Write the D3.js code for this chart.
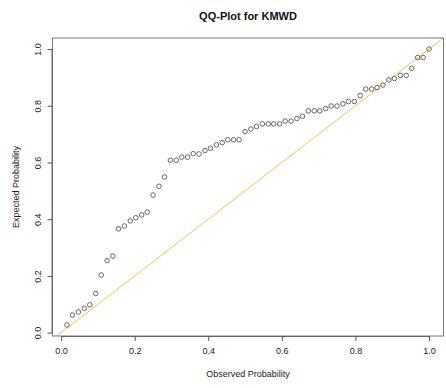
<!DOCTYPE html>
<html>
<head>
<meta charset="utf-8">
<script src="https://cdn.jsdelivr.net/npm/d3@7"></script>
<style>
  html, body { margin: 0; padding: 0; background: #fff; }
  svg { display: block; font-family: "Liberation Sans", Arial, sans-serif; }
</style>
</head>
<body>
<svg id="chart" width="446" height="388"></svg>
<script>
const observed = [0.016,0.031,0.047,0.063,0.078,0.094,0.109,0.125,0.141,0.156,
  0.172,0.188,0.203,0.219,0.234,0.250,0.266,0.281,0.297,0.313,
  0.328,0.344,0.359,0.375,0.391,0.406,0.422,0.438,0.453,0.469,
  0.484,0.500,0.516,0.531,0.547,0.563,0.578,0.594,0.609,0.625,
  0.641,0.656,0.672,0.688,0.703,0.719,0.734,0.750,0.766,0.781,
  0.797,0.813,0.828,0.844,0.859,0.875,0.891,0.906,0.922,0.938,
  0.953,0.969,0.984,1.000];
const expected = [0.027,0.062,0.073,0.086,0.098,0.138,0.203,0.254,0.270,0.366,
  0.376,0.394,0.405,0.415,0.425,0.485,0.516,0.549,0.608,0.608,
  0.619,0.619,0.631,0.630,0.642,0.650,0.662,0.670,0.680,0.680,
  0.680,0.709,0.718,0.727,0.736,0.736,0.736,0.736,0.746,0.746,
  0.755,0.763,0.782,0.782,0.782,0.790,0.799,0.799,0.807,0.815,
  0.815,0.836,0.859,0.859,0.864,0.873,0.891,0.896,0.907,0.907,
  0.932,0.970,0.970,1.000];
const xTicks = [0, 0.2, 0.4, 0.6, 0.8, 1.0];
const yTicks = [0, 0.2, 0.4, 0.6, 0.8, 1.0];
const titleText = "QQ-Plot for KMWD";
const xLabel = "Observed Probability";
const yLabel = "Expected Probability";

const svg = d3.select("#chart");
const L = 52.5, R = 443.5, T = 38, B = 336;

function padded(ext) {
  const d = ext[1] - ext[0];
  return [ext[0] - 0.04 * d, ext[1] + 0.04 * d];
}
const x = d3.scaleLinear().domain(padded(d3.extent(observed))).range([L, R]);
const y = d3.scaleLinear().domain(padded(d3.extent(expected))).range([B, T]);

svg.append("defs").append("clipPath").attr("id", "clip")
  .append("rect").attr("x", L).attr("y", T).attr("width", R - L).attr("height", B - T);

// reference line y = x
const xd = x.domain();
svg.append("line")
  .attr("clip-path", "url(#clip)")
  .attr("x1", x(xd[0] - 1)).attr("y1", y(xd[0] - 1))
  .attr("x2", x(xd[1] + 1)).attr("y2", y(xd[1] + 1))
  .attr("stroke", "#ffc04a").attr("stroke-width", 1);

// points
svg.append("g").selectAll("circle")
  .data(observed.map((v, i) => [v, expected[i]]))
  .join("circle")
  .attr("cx", d => x(d[0])).attr("cy", d => y(d[1]))
  .attr("r", 2.3)
  .attr("fill", "none").attr("stroke", "#444").attr("stroke-width", 0.8);

// box
svg.append("rect")
  .attr("x", L).attr("y", T).attr("width", R - L).attr("height", B - T)
  .attr("fill", "none").attr("stroke", "#777").attr("stroke-width", 1);

// x axis
const xAxis = d3.axisBottom(x).tickValues(xTicks).tickFormat(d3.format(".1f"))
  .tickSize(5).tickPadding(7);
const gx = svg.append("g").attr("transform", `translate(0,${B})`).call(xAxis);
gx.select(".domain").attr("d", `M${x(0)},0.5H${x(1)}`).attr("stroke", "#666");
gx.selectAll(".tick line").attr("stroke", "#555");
gx.selectAll(".tick text").attr("font-size", 9).attr("fill", "#222")
  .attr("font-family", "Liberation Sans, Arial, sans-serif");

// y axis
const yAxis = d3.axisLeft(y).tickValues(yTicks).tickFormat(d3.format(".1f"))
  .tickSize(5).tickPadding(0);
const gy = svg.append("g").attr("transform", `translate(${L},0)`).call(yAxis);
gy.select(".domain").attr("d", `M-0.5,${y(0)}V${y(1)}`).attr("stroke", "#666");
gy.selectAll(".tick line").attr("stroke", "#555");
gy.selectAll(".tick text")
  .attr("font-size", 9).attr("fill", "#222")
  .attr("font-family", "Liberation Sans, Arial, sans-serif")
  .attr("x", null).attr("dy", null)
  .attr("text-anchor", "middle")
  .attr("transform", `translate(-12,0) rotate(-90)`);

// title
svg.append("text").attr("x", (L + R) / 2).attr("y", 20)
  .attr("text-anchor", "middle").attr("font-size", 11).attr("font-weight", "bold")
  .attr("fill", "#111").text(titleText);

svg.append("text").attr("x", (L + R) / 2).attr("y", 377)
  .attr("text-anchor", "middle").attr("font-size", 9).attr("fill", "#222").text(xLabel);

svg.append("text")
  .attr("transform", `translate(19,${(T + B) / 2}) rotate(-90)`)
  .attr("text-anchor", "middle").attr("font-size", 9).attr("fill", "#222").text(yLabel);
</script>
</body>
</html>
